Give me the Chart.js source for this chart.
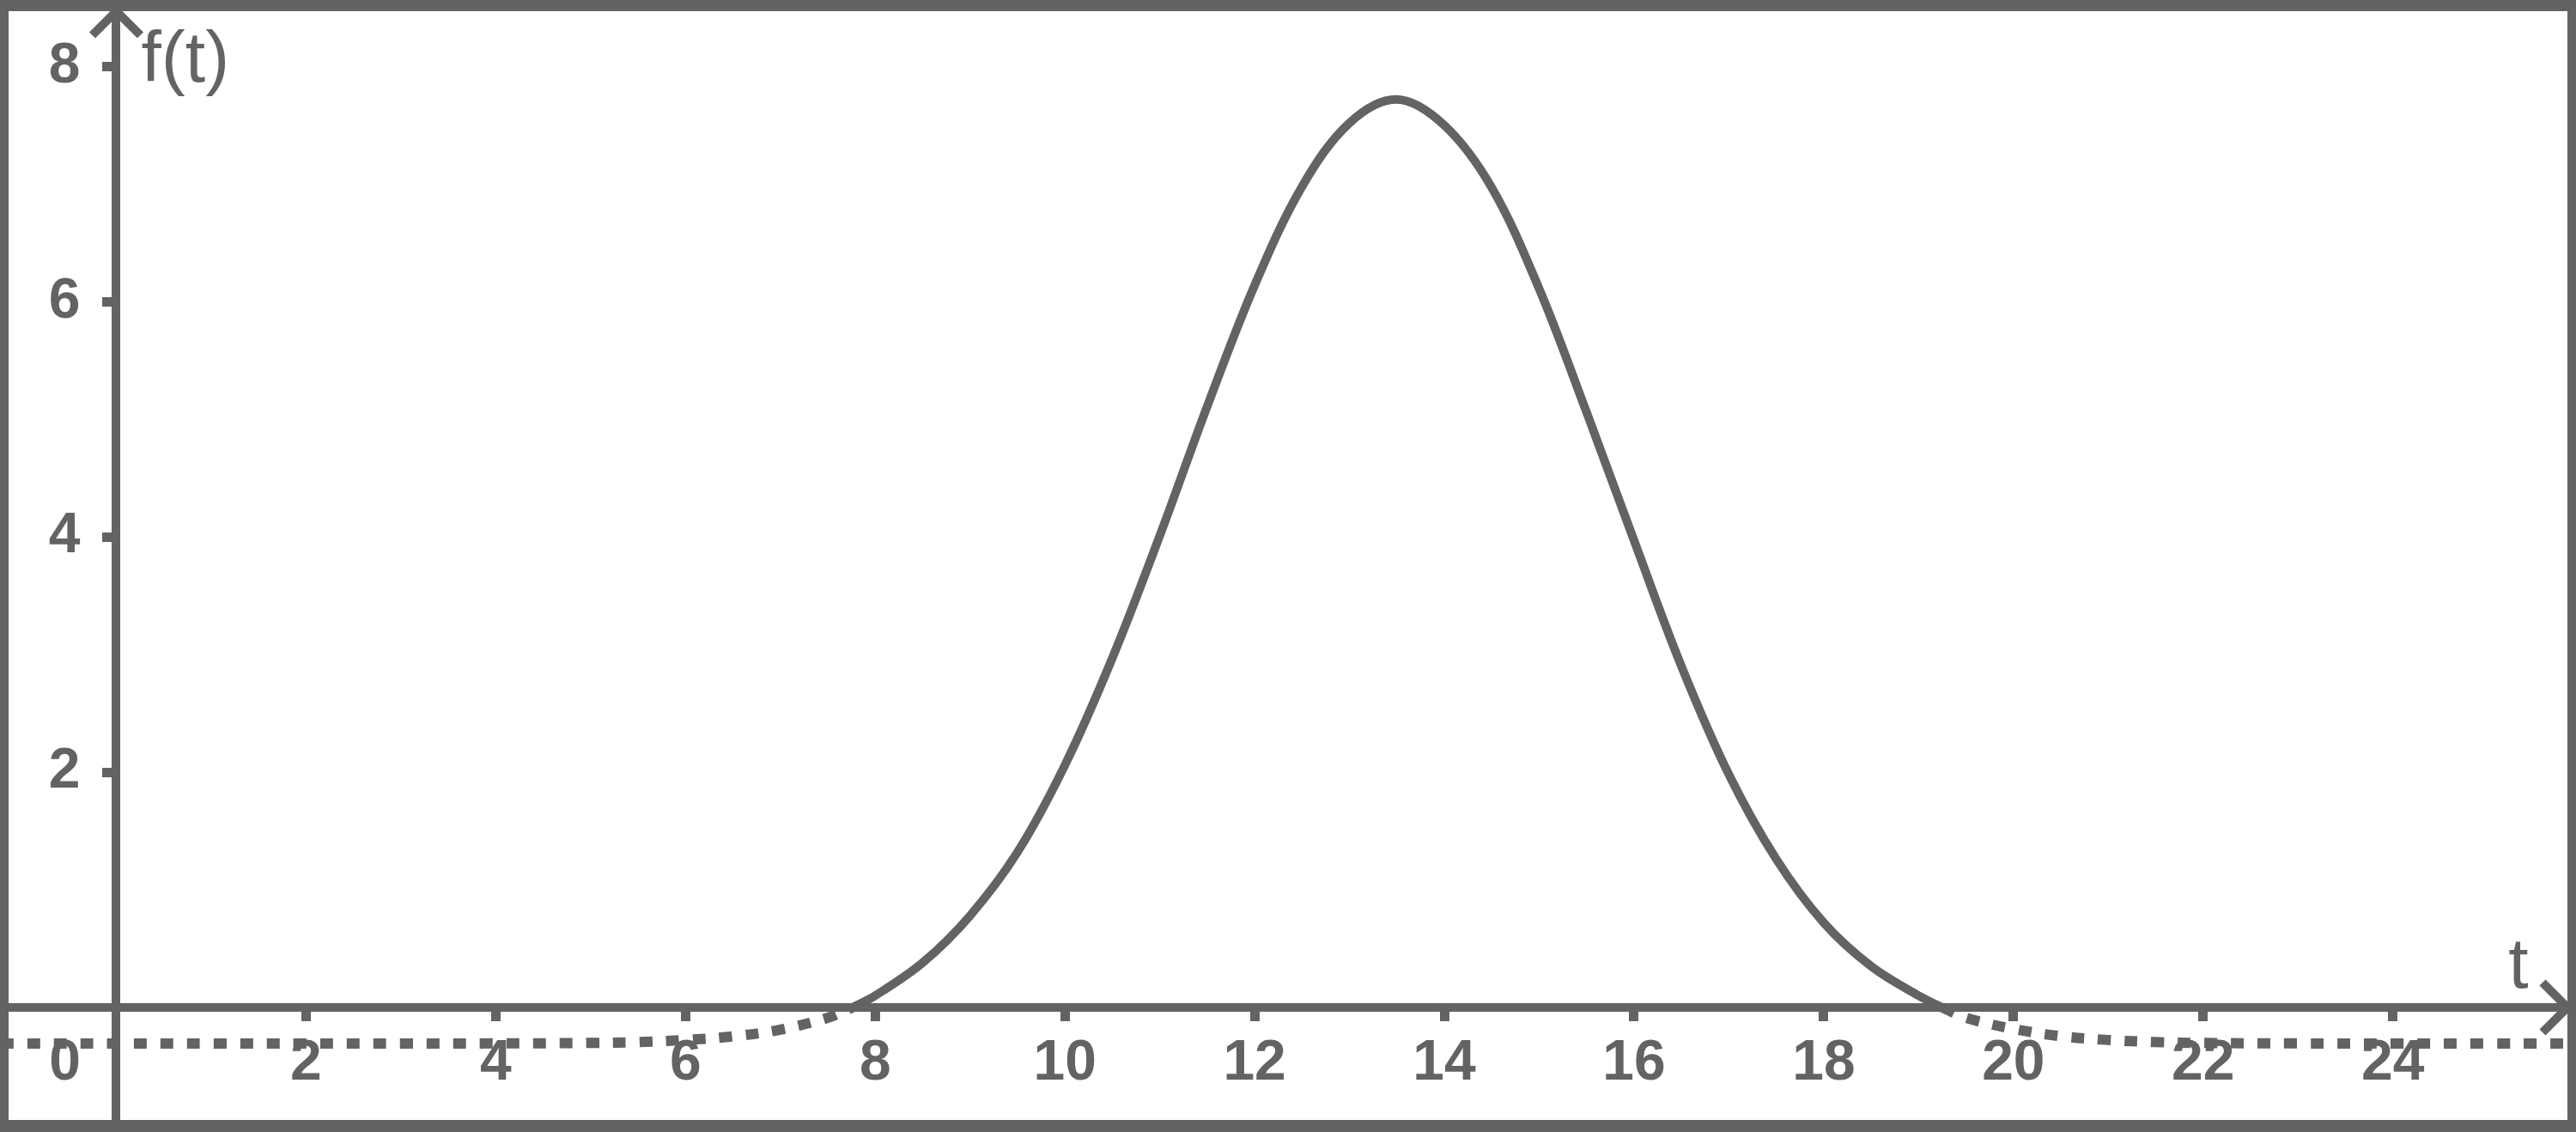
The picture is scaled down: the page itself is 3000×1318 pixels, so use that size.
<!DOCTYPE html>
<html>
<head>
<meta charset="utf-8">
<script src="https://cdn.jsdelivr.net/npm/chart.js@4.4.1/dist/chart.umd.min.js"></script>
<style>
  html, body { margin: 0; padding: 0; background: #ffffff; overflow: hidden; }
  #wrap { position: relative; width: 3000px; height: 1318px; }
</style>
</head>
<body>
<div id="wrap"><canvas id="c"></canvas></div>
<script>
// ---- data ----
const tValues = [-1.5, 0, 1, 2, 3, 4, 5, 5.5, 6, 6.5, 7, 7.5, 7.76,
  8, 8.5, 9, 9.5, 10, 10.5, 11, 11.5, 12, 12.5, 13, 13.5, 14,
  14.5, 15, 15.5, 16, 16.5, 17, 17.5, 18, 18.5, 19, 19.25,
  19.5, 20, 20.5, 21, 21.5, 22, 23, 24, 25, 26.5];
const fValues = [-0.307, -0.307, -0.307, -0.307, -0.307, -0.306, -0.302, -0.295, -0.277, -0.246, -0.189, -0.088, 0,
  0.10, 0.38, 0.78, 1.32, 2.06, 2.97, 4.01, 5.11, 6.14, 6.98, 7.52, 7.72, 7.50,
  6.97, 6.11, 5.06, 3.97, 2.90, 1.98, 1.26, 0.72, 0.35, 0.10, 0,
  -0.088, -0.183, -0.245, -0.277, -0.295, -0.302, -0.306, -0.307, -0.307, -0.307];
const xTickValues = [2, 4, 6, 8, 10, 12, 14, 16, 18, 20, 22, 24];
const yTickValues = [2, 4, 6, 8];
const originLabel = '0';
const xAxisTitle = 't';
const yAxisTitle = 'f(t)';

// ---- axis ranges ----
const X_MIN = -1.136, X_MAX = 25.84;
const Y_MIN = -0.957, Y_MAX = 8.471;

const GREY = '#636363';
const FONT = '"Liberation Sans", Arial, sans-serif';
const TICK_FONT = 'bold 66px ' + FONT;

const pts = tValues.map((t, i) => ({ x: t, y: fValues[i] }));
const firstPos = fValues.findIndex(v => v >= 0);
const lastPos = fValues.length - 1 - [...fValues].reverse().findIndex(v => v >= 0);
const solidPts = pts.slice(firstPos, lastPos + 1);
const leftTail = pts.slice(0, firstPos + 1);
const rightTail = pts.slice(lastPos);

const dotted = {
  borderColor: GREY, borderWidth: 12, borderDash: [15, 16], borderCapStyle: 'butt',
  pointRadius: 0, tension: 0.35, fill: false
};

const noPad = s => { s.paddingLeft = 0; s.paddingRight = 0; s.paddingTop = 0; s.paddingBottom = 0; };

const decor = {
  id: 'decor',
  afterDraw(chart) {
    const { ctx, chartArea: ca, scales: { x, y } } = chart;
    const x0 = x.getPixelForValue(0), y0 = y.getPixelForValue(0);
    ctx.save();
    ctx.strokeStyle = GREY; ctx.fillStyle = GREY;
    // arrow heads
    ctx.lineWidth = 10; ctx.lineCap = 'butt'; ctx.lineJoin = 'miter';
    ctx.beginPath();
    ctx.moveTo(x0 - 28, ca.top + 28); ctx.lineTo(x0, ca.top); ctx.lineTo(x0 + 28, ca.top + 28);
    ctx.moveTo(ca.right - 29, y0 - 29); ctx.lineTo(ca.right, y0); ctx.lineTo(ca.right - 29, y0 + 29);
    ctx.stroke();
    // axis titles
    ctx.font = '84px ' + FONT;
    ctx.textBaseline = 'alphabetic';
    ctx.textAlign = 'left';
    ctx.fillText(yAxisTitle, x0 + 29, 95);
    ctx.textAlign = 'center';
    ctx.fillText(xAxisTitle, ca.right - 57, y0 - 23);
    // y tick labels (left of the centred y axis) and origin label
    ctx.font = TICK_FONT;
    ctx.textAlign = 'right'; ctx.textBaseline = 'middle';
    y.ticks.forEach(tk => ctx.fillText(String(tk.value), x0 - 42, y.getPixelForValue(tk.value)));
    ctx.textAlign = 'center';
    ctx.fillText(originLabel, x0 - 60, y0 + 66);
    // frame
    const W = chart.width, H = chart.height;
    ctx.fillRect(0, 0, W, 13);
    ctx.fillRect(0, H - 14, W, 14);
    ctx.fillRect(0, 0, 10, H);
    ctx.fillRect(W - 10, 0, 10, H);
    ctx.restore();
  }
};

new Chart(document.getElementById('c'), {
  type: 'line',
  data: {
    datasets: [
      { data: solidPts, borderColor: GREY, borderWidth: 10, pointRadius: 0,
        tension: 0.35, fill: false, borderJoinStyle: 'round' },
      Object.assign({ data: leftTail }, dotted),
      Object.assign({ data: rightTail }, dotted)
    ]
  },
  options: {
    responsive: true, maintainAspectRatio: false, animation: false, devicePixelRatio: 1,
    layout: { padding: { left: 10, right: 10, top: 13, bottom: 14 } },
    plugins: { legend: { display: false }, tooltip: { enabled: false } },
    scales: {
      x: {
        type: 'linear', min: X_MIN, max: X_MAX, position: { y: 0 },
        afterBuildTicks: s => { s.ticks = xTickValues.map(v => ({ value: v })); },
        afterFit: noPad,
        grid: { drawOnChartArea: false, drawTicks: true, tickLength: 11, tickWidth: 11, tickColor: GREY },
        border: { display: true, color: GREY, width: 10 },
        ticks: { color: GREY, font: { family: FONT, weight: 'bold', size: 66 }, padding: 15,
                 autoSkip: false, maxRotation: 0, callback: v => String(v) }
      },
      y: {
        type: 'linear', min: Y_MIN, max: Y_MAX, position: { x: 0 },
        afterBuildTicks: s => { s.ticks = yTickValues.map(v => ({ value: v })); },
        afterFit: noPad,
        grid: { drawOnChartArea: false, drawTicks: true, tickLength: 11, tickWidth: 11, tickColor: GREY },
        border: { display: true, color: GREY, width: 10 },
        ticks: { display: false }
      }
    }
  },
  plugins: [decor]
});
</script>
</body>
</html>
